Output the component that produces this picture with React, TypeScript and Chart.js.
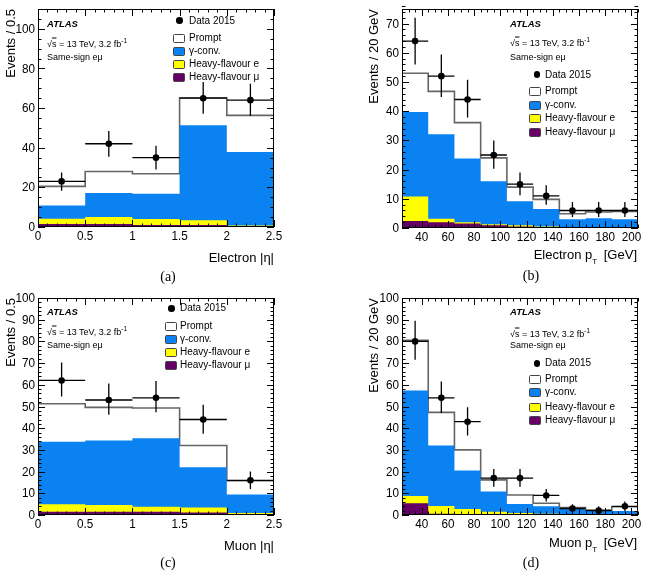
import React, { useEffect, useRef } from 'react';
import { Chart, registerables } from 'chart.js';
Chart.register(...registerables);

// ---------- binning / ticks ----------
const etaEdges = [0, 0.5, 1, 1.5, 2, 2.5];
const ptEdges = [25, 45, 65, 85, 105, 125, 145, 165, 185, 205];
const etaTicks = [0, 0.5, 1, 1.5, 2, 2.5];
const etaTickLabels = ['0', '0.5', '1', '1.5', '2', '2.5'];
const ptTicks = [40, 60, 80, 100, 120, 140, 160, 180, 200];
const ptTickLabels = ['40', '60', '80', '100', '120', '140', '160', '180', '200'];
const yTicks110 = [0, 20, 40, 60, 80, 100];
const yTicks110Labels = ['0', '20', '40', '60', '80', '100'];
const yTicks75 = [0, 10, 20, 30, 40, 50, 60, 70];
const yTicks75Labels = ['0', '10', '20', '30', '40', '50', '60', '70'];
const yTicks100 = [0, 10, 20, 30, 40, 50, 60, 70, 80, 90, 100];
const yTicks100Labels = ['0', '10', '20', '30', '40', '50', '60', '70', '80', '90', '100'];

// ---------- (a) Electron |eta| ----------
const aHfMu = [1.5, 1.5, 1.0, 1.0, 0.3];
const aHfE = [2.7, 3.5, 3.0, 2.4, 0.5];
const aConv = [6.7, 12.1, 12.8, 47.9, 37.0];
const aPrompt = [9.6, 10.9, 10.1, 13.9, 18.5];
const aData = [23, 42, 35, 65, 64];
const aDataHi = [27.5, 48.5, 41, 73.2, 72.3];
const aDataLo = [18.3, 35.4, 29, 57.1, 56];

// ---------- (b) Electron pT ----------
const bHfMu = [2.4, 2.0, 1.5, 0.9, 0.5, 0.2, 0.2, 0.2, 0.2];
const bHfE = [8.4, 1.2, 0.5, 0.4, 0.4, 0.3, 0.1, 0.1, 0.1];
const bConv = [28.9, 28.9, 21.8, 14.7, 8.3, 6.0, 2.7, 3.0, 2.7];
const bPrompt = [13.3, 14.7, 12.3, 8.0, 4.8, 3.3, 1.9, 2.2, 2.7];
const bData = [64, 52, 44, 25, 15, 11, 6, 6, 6];
const bDataHi = [72, 59.4, 50.8, 30, 19, 14.6, 8.9, 8.9, 8.9];
const bDataLo = [56, 44.9, 37.8, 20.3, 11.2, 8, 3.8, 3.8, 3.8];

// ---------- (c) Muon |eta| ----------
const cHfMu = [1.5, 1.5, 1.5, 1.2, 0.3];
const cHfE = [3.4, 3.1, 2.3, 2.2, 0.6];
const cConv = [28.9, 29.7, 31.6, 18.6, 8.6];
const cPrompt = [17.5, 15.3, 13.9, 10.0, 6.3];
const cData = [62, 53, 54, 44, 16];
const cDataHi = [70.3, 60.6, 61.8, 50.8, 20];
const cDataLo = [54.6, 46.2, 47.4, 37.4, 12];

// ---------- (d) Muon pT ----------
const dHfMu = [5.4, 0.6, 0.3, 0.3, 0.2, 0.2, 0.1, 0.1, 0.1];
const dHfE = [3.4, 3.6, 2.5, 1.2, 0.7, 0.4, 0.2, 0.2, 0.2];
const dConv = [48.6, 27.8, 17.7, 9.3, 4.2, 3.4, 2.5, 1.5, 1.5];
const dPrompt = [23.1, 15.3, 9.5, 5.4, 4.1, 1.4, 0.6, 0.5, 2.0];
const dData = [80, 54, 43, 17, 17, 9, 3, 2, 4];
const dDataHi = [89.5, 61.5, 49.7, 21.2, 21.2, 12, 4.9, 4, 6.2];
const dDataLo = [71.5, 47, 36.6, 13, 13, 6.2, 1.5, 0.8, 1.8];

const legendLabels = ['Data 2015', 'Prompt', 'γ-conv.', 'Heavy-flavour e', 'Heavy-flavour μ'];

const COL_MU = '#660066';
const COL_E = '#ffff00';
const COL_CONV = '#0b82f2';
const COL_PROMPT = '#ffffff';
const SANS = "'Liberation Sans', Arial, Helvetica, sans-serif";

type Panel = {
  left: number; top: number; w: number; h: number;
  area: { l: number; t: number; r: number; b: number };
  edges: number[]; xMin: number; xMax: number; xTicks: number[]; xLabels: string[]; xMinor: number;
  yMax: number; yTicks: number[]; yLabels: string[]; yMinor: number;
  hfMu: number[]; hfE: number[]; conv: number[]; prompt: number[];
  data: number[]; hi: number[]; lo: number[];
};

const panels: Panel[] = [
  {
    left: 0, top: 0, w: 320, h: 285, area: { l: 38, t: 9, r: 274, b: 227 },
    edges: etaEdges, xMin: 0, xMax: 2.5, xTicks: etaTicks, xLabels: etaTickLabels, xMinor: 0.1,
    yMax: 110, yTicks: yTicks110, yLabels: yTicks110Labels, yMinor: 5,
    hfMu: aHfMu, hfE: aHfE, conv: aConv, prompt: aPrompt, data: aData, hi: aDataHi, lo: aDataLo,
  },
  {
    left: 322, top: 0, w: 323, h: 285, area: { l: 80, t: 9, r: 316, b: 228 },
    edges: ptEdges, xMin: 25, xMax: 205, xTicks: ptTicks, xLabels: ptTickLabels, xMinor: 5,
    yMax: 75, yTicks: yTicks75, yLabels: yTicks75Labels, yMinor: 2,
    hfMu: bHfMu, hfE: bHfE, conv: bConv, prompt: bPrompt, data: bData, hi: bDataHi, lo: bDataLo,
  },
  {
    left: 0, top: 288, w: 320, h: 284, area: { l: 38, t: 10, r: 274, b: 227 },
    edges: etaEdges, xMin: 0, xMax: 2.5, xTicks: etaTicks, xLabels: etaTickLabels, xMinor: 0.1,
    yMax: 100, yTicks: yTicks100, yLabels: yTicks100Labels, yMinor: 2,
    hfMu: cHfMu, hfE: cHfE, conv: cConv, prompt: cPrompt, data: cData, hi: cDataHi, lo: cDataLo,
  },
  {
    left: 322, top: 288, w: 323, h: 284, area: { l: 80, t: 10, r: 316, b: 227 },
    edges: ptEdges, xMin: 25, xMax: 205, xTicks: ptTicks, xLabels: ptTickLabels, xMinor: 5,
    yMax: 100, yTicks: yTicks100, yLabels: yTicks100Labels, yMinor: 2,
    hfMu: dHfMu, hfE: dHfE, conv: dConv, prompt: dPrompt, data: dData, hi: dDataHi, lo: dDataLo,
  },
];

// Inward ATLAS-style tick marks on all four sides, frame, and (slightly condensed) tick labels
const frameTicks = {
  id: 'frameTicks',
  afterDatasetsDraw(chart: any, _args: any, opts: any) {
    const { ctx, chartArea } = chart;
    const { left, right, top, bottom } = chartArea;
    const xs = chart.scales.x;
    const ys = chart.scales.y;
    ctx.save();
    ctx.strokeStyle = '#000';
    ctx.lineWidth = 1;
    ctx.beginPath();
    const isMajor = (arr: number[], v: number) => arr.some((m) => Math.abs(m - v) < 1e-6);
    const nx = Math.round((xs.max - xs.min) / opts.xMinor);
    for (let i = 0; i <= nx; i++) {
      const v = xs.min + i * opts.xMinor;
      const len = isMajor(opts.xTicks, v) ? 7 : 3.5;
      const px = Math.round(xs.getPixelForValue(v)) + 0.5;
      ctx.moveTo(px, bottom); ctx.lineTo(px, bottom - len);
      ctx.moveTo(px, top); ctx.lineTo(px, top + len);
    }
    const ny = Math.round((ys.max - ys.min) / opts.yMinor);
    for (let i = 0; i <= ny; i++) {
      const v = ys.min + i * opts.yMinor;
      const len = isMajor(opts.yTicks, v) ? 7 : 3.5;
      const py = Math.round(ys.getPixelForValue(v)) + 0.5;
      ctx.moveTo(left, py); ctx.lineTo(left + len, py);
      ctx.moveTo(right, py); ctx.lineTo(right - len, py);
    }
    ctx.stroke();
    ctx.strokeRect(left + 0.5, top + 0.5, right - left - 1, bottom - top - 1);

    // tick labels
    ctx.fillStyle = '#000';
    ctx.font = "13px 'Liberation Sans', Arial, sans-serif";
    const sx = 0.9;
    ctx.textAlign = 'center';
    ctx.textBaseline = 'top';
    opts.xTicks.forEach((v: number, i: number) => {
      ctx.save();
      ctx.translate(xs.getPixelForValue(v), bottom + 3);
      ctx.scale(sx, 1);
      ctx.fillText(opts.xLabels[i], 0, 0);
      ctx.restore();
    });
    ctx.textAlign = 'right';
    ctx.textBaseline = 'middle';
    opts.yTicks.forEach((v: number, i: number) => {
      ctx.save();
      ctx.translate(left - 3, ys.getPixelForValue(v) + 0.5);
      ctx.scale(sx, 1);
      ctx.fillText(opts.yLabels[i], 0, 0);
      ctx.restore();
    });
    ctx.restore();
  },
};

function ChartPanel({ p }: { p: Panel }) {
  const ref = useRef<HTMLCanvasElement>(null);
  useEffect(() => {
    if (!ref.current) return;
    const c1 = p.hfMu.slice();
    const c2 = c1.map((v, i) => v + p.hfE[i]);
    const c3 = c2.map((v, i) => v + p.conv[i]);
    const c4 = c3.map((v, i) => v + p.prompt[i]);
    const hist = (vals: number[]) =>
      vals.flatMap((v, i) => [{ x: p.edges[i], y: v }, { x: p.edges[i + 1], y: v }]);
    const errPts: any[] = [];
    p.data.forEach((d, i) => {
      const a = p.edges[i];
      const b = p.edges[i + 1];
      const c = (a + b) / 2;
      errPts.push({ x: a, y: d }, { x: b, y: d }, { x: b, y: null },
        { x: c, y: p.lo[i] }, { x: c, y: p.hi[i] }, { x: c, y: null });
    });
    const dataPts = p.data.map((d, i) => ({ x: (p.edges[i] + p.edges[i + 1]) / 2, y: d }));
    const fillDs = (data: any[], color: string, order: number, border?: string) => ({
      data, order, fill: 'origin', backgroundColor: color,
      borderColor: border ?? 'rgba(0,0,0,0)', borderWidth: border ? 1.6 : 0.01,
      pointRadius: 0, tension: 0,
    });
    const gridOff = { display: false, drawTicks: false, tickLength: 0 };
    const chart = new Chart(ref.current, {
      type: 'line',
      data: {
        datasets: [
          { data: dataPts, order: 0, showLine: false, pointRadius: 3.3, pointBackgroundColor: '#000', pointBorderColor: '#000', pointBorderWidth: 0 } as any,
          { data: errPts, order: 1, borderColor: '#000', borderWidth: 1.3, pointRadius: 0, spanGaps: false, fill: false } as any,
          fillDs(hist(c1), COL_MU, 2),
          fillDs(hist(c2), COL_E, 3),
          fillDs(hist(c3), COL_CONV, 4),
          fillDs(hist(c4), COL_PROMPT, 5, '#666666'),
        ],
      },
      options: {
        animation: false,
        responsive: false,
        devicePixelRatio: 1,
        events: [],
        layout: { padding: { left: 0, top: p.area.t, right: p.w - p.area.r, bottom: 0 } },
        plugins: {
          legend: { display: false },
          tooltip: { enabled: false },
          frameTicks: { xTicks: p.xTicks, yTicks: p.yTicks, xLabels: p.xLabels, yLabels: p.yLabels,
            xMinor: p.xMinor, yMinor: p.yMinor },
        } as any,
        scales: {
          x: {
            type: 'linear', min: p.xMin, max: p.xMax,
            grid: gridOff, border: { display: false },
            afterBuildTicks: (s: any) => { s.ticks = p.xTicks.map((v) => ({ value: v })); },
            afterFit: (s: any) => { s.height = p.h - p.area.b; },
            ticks: { display: false },
          },
          y: {
            type: 'linear', min: 0, max: p.yMax,
            grid: gridOff, border: { display: false },
            afterBuildTicks: (s: any) => { s.ticks = p.yTicks.map((v) => ({ value: v })); },
            afterFit: (s: any) => { s.width = p.area.l; },
            ticks: { display: false },
          },
        },
      } as any,
      plugins: [frameTicks as any],
    });
    return () => chart.destroy();
  }, []);
  return (
    <canvas ref={ref} width={p.w} height={p.h}
      style={{ position: 'absolute', left: p.left, top: p.top, width: p.w, height: p.h }} />
  );
}

function Txt({ x, y, anchor = 'start', size = 10, children, style }: any) {
  const tx = anchor === 'end' ? '-100%' : anchor === 'middle' ? '-50%' : '0';
  return (
    <div style={{ position: 'absolute', left: x, top: y, transform: `translate(${tx}, -50%)`,
      fontSize: size, lineHeight: 1, whiteSpace: 'nowrap', ...style }}>
      {children}
    </div>
  );
}

function YTitle({ x, top, text }: { x: number; top: number; text: string }) {
  return (
    <div style={{ position: 'absolute', left: x, top, transformOrigin: '0 0',
      transform: 'rotate(-90deg) translate(-100%, -50%)', fontSize: 13, lineHeight: 1, whiteSpace: 'nowrap' }}>
      {text}
    </div>
  );
}

function Atlas({ x, y1, y2, y3 }: { x: number; y1: number; y2: number; y3: number }) {
  return (
    <>
      <Txt x={x} y={y1} size={9.5} style={{ fontWeight: 'bold', fontStyle: 'italic' }}>ATLAS</Txt>
      <Txt x={x} y={y2} size={9}>
        √<span style={{ textDecoration: 'overline' }}>s</span> = 13 TeV, 3.2 fb
        <span style={{ fontSize: 6.5, position: 'relative', top: -4 }}>-1</span>
      </Txt>
      <Txt x={x} y={y3} size={9}>Same-sign eμ</Txt>
    </>
  );
}

const swatchColors = [COL_PROMPT, COL_CONV, COL_E, COL_MU];

function Legend({ dotX, sx, tx, rows }: { dotX: number; sx: number; tx: number; rows: number[] }) {
  return (
    <>
      <div style={{ position: 'absolute', left: dotX - 3.3, top: rows[0] - 3.3, width: 6.6, height: 6.6,
        borderRadius: '50%', background: '#000' }} />
      {rows.slice(1).map((ry, i) => (
        <div key={i} style={{ position: 'absolute', left: sx, top: ry - 4, width: 10, height: 7,
          border: '1px solid #444', borderRadius: 1.5, background: swatchColors[i] }} />
      ))}
      {rows.map((ry, i) => (
        <Txt key={'t' + i} x={tx} y={ry} size={10}>{legendLabels[i]}</Txt>
      ))}
    </>
  );
}

export default function App() {
  const serif = { fontFamily: "'Liberation Serif', 'Times New Roman', serif" };
  return (
    <div style={{ position: 'absolute', left: 0, top: 0, width: 645, height: 572, background: '#fff',
      fontFamily: SANS, color: '#000', overflow: 'hidden' }}>
      {panels.map((p, i) => <ChartPanel key={i} p={p} />)}

      <YTitle x={10} top={9} text="Events / 0.5" />
      <YTitle x={373} top={9} text="Events / 20 GeV" />
      <YTitle x={10} top={298} text="Events / 0.5" />
      <YTitle x={373} top={298} text="Events / 20 GeV" />

      <Txt x={274} y={257} anchor="end" size={13}>Electron |η|</Txt>
      <Txt x={637} y={254} anchor="end" size={13}>
        Electron p<span style={{ fontSize: 8, position: 'relative', top: 5, marginRight: 3 }}>T</span> [GeV]
      </Txt>
      <Txt x={274} y={545} anchor="end" size={13}>Muon |η|</Txt>
      <Txt x={637} y={542} anchor="end" size={13}>
        Muon p<span style={{ fontSize: 8, position: 'relative', top: 5, marginRight: 3 }}>T</span> [GeV]
      </Txt>

      <Txt x={168} y={277} anchor="middle" size={14} style={serif}>(a)</Txt>
      <Txt x={531} y={276} anchor="middle" size={14} style={serif}>(b)</Txt>
      <Txt x={168} y={563} anchor="middle" size={14} style={serif}>(c)</Txt>
      <Txt x={531} y={563} anchor="middle" size={14} style={serif}>(d)</Txt>

      <Atlas x={47} y1={24} y2={43.5} y3={56.5} />
      <Atlas x={510} y1={23.5} y2={43.3} y3={56.7} />
      <Atlas x={47} y1={312} y2={332} y3={345} />
      <Atlas x={510} y1={311.7} y2={333.5} y3={345} />

      <Legend dotX={179.5} sx={173} tx={189} rows={[20.5, 37.7, 50.7, 63.7, 77.3]} />
      <Legend dotX={537} sx={528.5} tx={545} rows={[74.5, 90.5, 104.5, 118.3, 131.7]} />
      <Legend dotX={171.5} sx={164.5} tx={180} rows={[308.3, 326, 338.5, 351.7, 365]} />
      <Legend dotX={537} sx={528.5} tx={545} rows={[363.3, 379.3, 392, 406.5, 420]} />
    </div>
  );
}
